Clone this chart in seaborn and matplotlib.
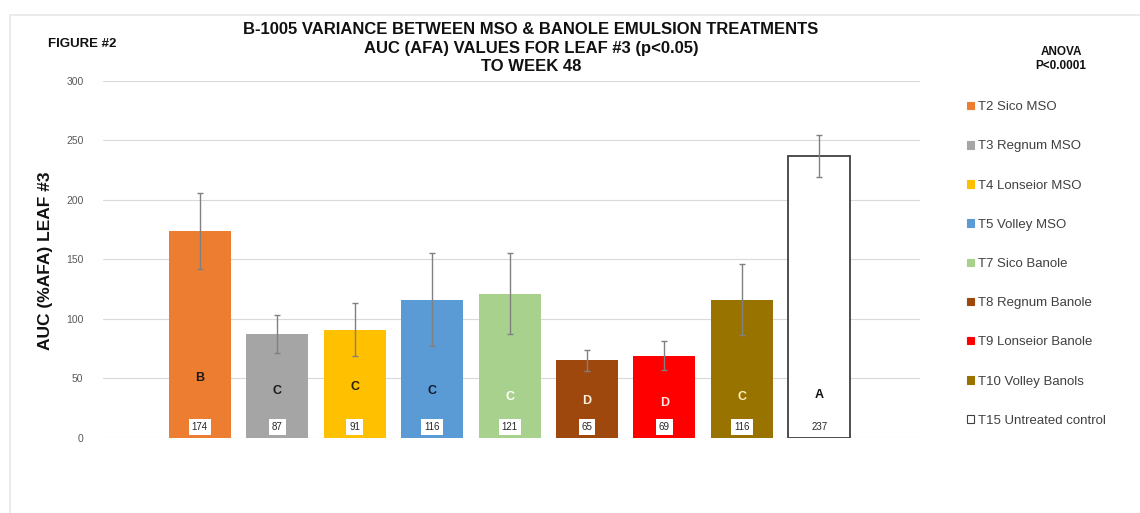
import matplotlib
matplotlib.use("Agg")
import matplotlib.pyplot as plt
from matplotlib.patches import Rectangle, Patch
import seaborn as sns
import pandas as pd

# Treatment data
treatments = ["T2 Sico MSO", "T3 Regnum MSO", "T4 Lonseior MSO", "T5 Volley MSO",
              "T7 Sico Banole", "T8 Regnum Banole", "T9 Lonseior Banole",
              "T10 Volley Banols", "T15 Untreated control"]
auc_values = [174, 87, 91, 116, 121, 65, 69, 116, 237]
auc_errors = [32, 16, 22, 39, 34, 9, 12, 30, 18]
groups = ["B", "C", "C", "C", "C", "D", "D", "C", "A"]

# Styling
bar_colors = ["#ED7D31", "#A5A5A5", "#FFC000", "#5B9BD5", "#A9D18E",
              "#9E480E", "#FF0000", "#997300", "#FFFFFF"]
group_text_colors = ["#1a1a1a", "#1a1a1a", "#2b2000", "#0d1a33", "#ffffff",
                     "#fff1dc", "#ffe6e6", "#ffefc0", "#111111"]
group_label_y = [50, 39, 43, 39, 34, 31, 29, 34, 36]
value_label_y = 9

sns.set_theme(style="white")
plt.rcParams["font.family"] = ["Liberation Sans", "DejaVu Sans"]

df = pd.DataFrame({"treatment": treatments, "auc": auc_values})

fig = plt.figure(figsize=(11.4, 5.13), dpi=100)
ax = fig.add_axes([103 / 1140, 1 - 437.7 / 513, 817 / 1140, 356.7 / 513])

sns.barplot(data=df, x="treatment", y="auc", hue="treatment",
            palette=bar_colors, order=treatments, hue_order=treatments,
            legend=False, width=0.8, errorbar=None, saturation=1,
            linewidth=0, ax=ax, zorder=2)

# Untreated control drawn as an outlined bar
last = ax.patches[-1]
last.set_edgecolor("#404040")
last.set_linewidth(1.3)

xpos = list(range(len(treatments)))
ax.errorbar(xpos, auc_values, yerr=auc_errors, fmt="none", ecolor="#808080",
            elinewidth=1.0, capsize=2.5, capthick=1.0, zorder=3)

for x, g, c, gy in zip(xpos, groups, group_text_colors, group_label_y):
    ax.text(x, gy, g, ha="center", va="center", fontsize=9,
            fontweight="bold", color=c, zorder=4)

for x, v in zip(xpos, auc_values):
    ax.text(x, value_label_y, str(v), ha="center", va="center", fontsize=7,
            color="#262626", zorder=4,
            bbox=dict(boxstyle="square,pad=0.3", fc="white", ec="none"))

ax.set_xlim(-1.25, 9.3)
ax.set_ylim(0, 300)
ax.set_yticks([0, 50, 100, 150, 200, 250, 300])
ax.set_xticks([])
ax.set_xlabel("")
ax.set_ylabel("AUC (%AFA) LEAF #3", fontsize=12.5, fontweight="bold",
              color="#111111")
ax.yaxis.set_label_coords(-0.061, 0.495)
ax.tick_params(axis="y", length=0, pad=14, labelsize=7.5, labelcolor="#595959")
ax.grid(axis="y", color="#D9D9D9", linewidth=0.8, zorder=0)
ax.set_axisbelow(True)
for s in ax.spines.values():
    s.set_visible(False)

# Title and side notes
fig.text(531 / 1140, 1 - 48 / 513,
         "B-1005 VARIANCE BETWEEN MSO & BANOLE EMULSION TREATMENTS\n"
         "AUC (AFA) VALUES FOR LEAF #3 (p<0.05)\nTO WEEK 48",
         ha="center", va="center", fontsize=12, fontweight="bold",
         color="#111111", linespacing=1.32)
fig.text(82 / 1140, 1 - 44 / 513, "FIGURE #2", ha="center", va="center",
         fontsize=9.5, fontweight="bold", color="#111111")
fig.text(1061 / 1140, 1 - 59 / 513, "ANOVA\nP<0.0001", ha="center",
         va="center", fontsize=8.5, fontweight="bold", color="#111111",
         linespacing=1.2)

# Legend
handles = [Patch(facecolor=c, edgecolor=("#404040" if c == "#FFFFFF" else c),
                 linewidth=0.8) for c in bar_colors]
fig.legend(handles, treatments, loc="upper left",
           bbox_to_anchor=(962 / 1140, 1 - 96 / 513), frameon=False,
           fontsize=9.5, labelspacing=2.06, handlelength=0.5,
           handleheight=0.5, handletextpad=0.3, labelcolor="#404040",
           borderaxespad=0)

# Light frame around the figure
fig.patches.append(Rectangle((10 / 1140, -0.1), 1.2, 1.1 - 15 / 513,
                             transform=fig.transFigure, fill=False,
                             edgecolor="#E8E8E8", linewidth=1.2))

fig.savefig("out.png", dpi=100, facecolor="white")
